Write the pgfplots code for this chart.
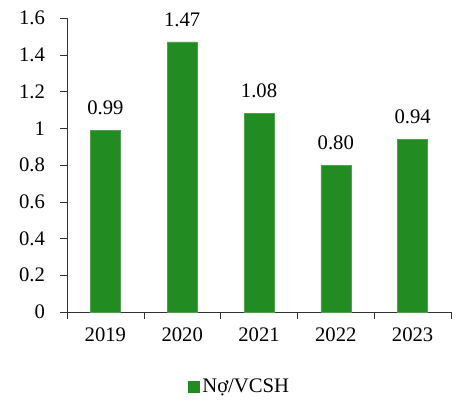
\documentclass[border=0pt]{standalone}
\usepackage{fontspec}
\setmainfont{Liberation Serif}
\usepackage{pgfplots}
\pgfplotsset{compat=1.18}
\definecolor{fgreen}{HTML}{228B22}

\begin{document}
\begin{tikzpicture}
\path[use as bounding box] (-50.25pt,-66pt) rectangle (299.25pt,234pt);
\begin{axis}[
    at={(0pt,0pt)}, anchor=south west,
    scale only axis,
    width=288pt, height=220.5pt,
    ybar, bar width=22.5pt,
    ymin=0, ymax=1.6,
    ytick={0,0.2,...,1.6},
    xmin=-0.5, xmax=4.5,
    xtick={-0.5,0.5,...,4.5},
    xticklabels={},
    extra x ticks={0,1,2,3,4},
    extra x tick labels={2019,2020,2021,2022,2023},
    extra x tick style={major tick length=0pt},
    axis x line*=bottom, axis y line*=left,
    axis line style={black!80, -},
    tick style={black!80},
    tick align=outside,
    major tick length=5pt,
    /pgf/number format/assume math mode=true,
    tick label style={font=\fontsize{15.5}{18}\selectfont},
    xticklabel style={yshift=-8pt},
    yticklabel style={xshift=-8pt, /pgf/number format/.cd, fixed},
    nodes near coords,
    nodes near coords style={font=\fontsize{15.5}{18}\selectfont, yshift=8pt,
        /pgf/number format/.cd, fixed, fixed zerofill, precision=2, assume math mode=true},
    legend style={at={(0.45,-0.255)}, anchor=center, draw=none,
        font=\fontsize{15.5}{18}\selectfont},
    legend image code/.code={\fill[fgreen] (0pt,-4pt) rectangle (8.5pt,4.5pt);},
]
\addplot[fill=fgreen, draw=fgreen!80!white] coordinates {
    (0,0.99) (1,1.47) (2,1.08) (3,0.80) (4,0.94)
};
\addlegendentry{Nợ/VCSH}
\end{axis}
\end{tikzpicture}
\end{document}
